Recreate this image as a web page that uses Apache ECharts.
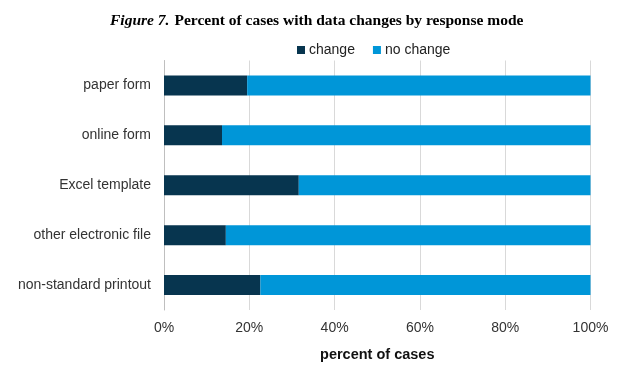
<!DOCTYPE html>
<html><head><meta charset="utf-8">
<script src="https://cdn.jsdelivr.net/npm/echarts@6/dist/echarts.min.js"></script>
<style>html,body{margin:0;padding:0;background:#fff}#c{width:618px;height:367px}</style>
</head><body><div id="c"></div>
<script>
const categories = ['paper form','online form','Excel template','other electronic file','non-standard printout'];
const changeVals = [19.5, 13.6, 31.6, 14.5, 22.6];
const noChangeVals = [80.5, 86.4, 68.4, 85.5, 77.4];
const xTicks = [0, 20, 40, 60, 80, 100];

const chart = echarts.init(document.getElementById('c'));
chart.setOption({
  animation: false,
  title: {
    text: '{i|Figure 7.} {n|Percent of cases with data changes by response mode}',
    left: 105, top: 7,
    textStyle: {
      rich: {
        i: {fontFamily: 'Liberation Serif', fontStyle: 'italic', fontSize: 15.5, color: '#000'},
        n: {fontFamily: 'Liberation Serif', fontSize: 15.5, color: '#000'}
      }
    }
  },
  legend: {
    data: ['change', 'no change'],
    top: 38, left: 292,
    itemWidth: 8, itemHeight: 8, itemGap: 18,
    icon: 'rect',
    textStyle: {fontFamily: 'Liberation Sans', fontSize: 14, color: '#222', padding: [0,0,0,-1]}
  },
  grid: {left: 164, right: 27.5, top: 60.5, bottom: 56.5},
  xAxis: {
    type: 'value', min: 0, max: 100, interval: 20,
    name: 'percent of cases', nameLocation: 'middle', nameGap: 37,
    nameTextStyle: {fontFamily: 'Liberation Sans', fontSize: 14.5, fontWeight: 'bold', color: '#111'},
    axisLabel: {formatter: v => xTicks.includes(v) ? v + '%' : '', fontFamily: 'Liberation Sans', fontSize: 14, color: '#333', margin: 11},
    axisLine: {show: false},
    axisTick: {show: false},
    splitLine: {show: true, lineStyle: {color: '#d9d9d9', width: 1}}
  },
  yAxis: {
    type: 'category', data: categories, inverse: true,
    axisLine: {show: true, lineStyle: {color: '#bfbfbf'}},
    axisTick: {show: false},
    axisLabel: {fontFamily: 'Liberation Sans', fontSize: 14, color: '#333', margin: 13}
  },
  series: [
    {name: 'change', type: 'bar', stack: 's', data: changeVals, barWidth: 20, itemStyle: {color: '#07354f'}},
    {name: 'no change', type: 'bar', stack: 's', data: noChangeVals, barWidth: 20, itemStyle: {color: '#0096d8'}}
  ]
});
</script></body></html>
